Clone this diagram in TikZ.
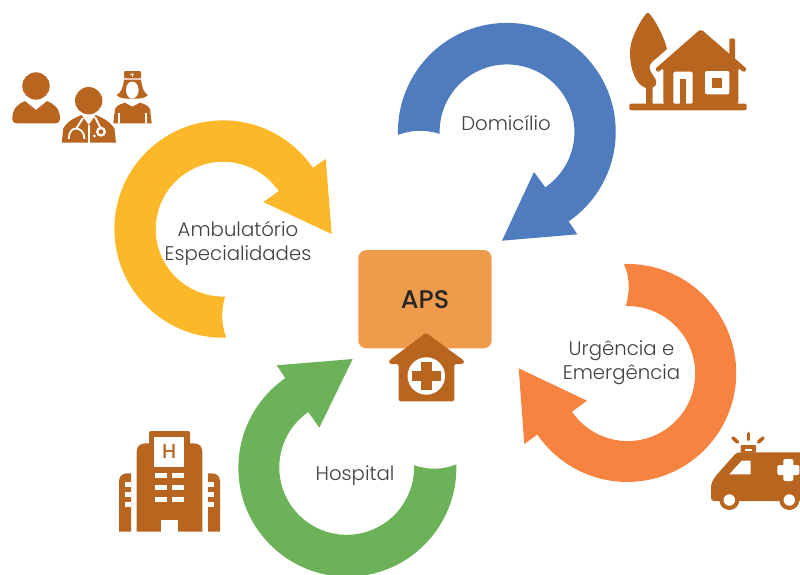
\documentclass[tikz,border=0pt]{standalone}
\usepackage{fontspec}
\setmainfont{Poppins}
\newfontfamily\lightfont{Poppins Light}
\newfontfamily\mediumfont{Poppins Medium}
\definecolor{ringyellow}{RGB}{253,184,41}
\definecolor{ringblue}{RGB}{78,124,191}
\definecolor{ringorange}{RGB}{246,131,64}
\definecolor{ringgreen}{RGB}{107,178,89}
\definecolor{apsbox}{RGB}{239,155,76}
\definecolor{iconbrown}{RGB}{184,101,32}
\definecolor{labelgrey}{RGB}{64,64,66}
\tikzset{
	icon/.style={fill=iconbrown},
	hole/.style={fill=white},
	ray/.style={draw=iconbrown, line width=3.6pt, line cap=round},
	gap/.style={draw=white, line width=1.8pt},
	ringlabel/.style={font=\lightfont\fontsize{19.7}{24}\selectfont, text=labelgrey, align=center, inner sep=0pt}
}

\begin{document}
\begin{tikzpicture}[x=1pt,y=1pt,yscale=-1]
	\clip (0,0) rectangle (800,574);

	\fill[ringyellow] (226.3,337.7) arc[start angle=88.3, end angle=325.7, radius=108.7]
		-- (325.7,159) -- (331.7,234) -- (263.3,202) -- (278.8,191.2)
		arc[start angle=325.7, end angle=88.3, radius=67.4]
		.. controls (221,310) and (221,324) .. (226.3,337.7) -- cycle;

	\fill[ringblue] (398,135) arc[start angle=178.3, end angle=415.4, radius=108.9]
		-- (577.3,234.3) -- (502,240.7) -- (534,172) -- (545.3,187.3)
		arc[start angle=415.4, end angle=178.3, radius=67.4]
		.. controls (425,129.5) and (412,129.5) .. (398,135) -- cycle;

	\fill[ringorange] (624,264) arc[start angle=268.3, end angle=505.6, radius=109]
		-- (524.3,444) -- (518.7,368.3) -- (587,400.7) -- (572,411.7)
		arc[start angle=505.6, end angle=268.3, radius=67.5]
		.. controls (630,292) and (630,278) .. (624,264) -- cycle;

	\fill[ringgreen] (456.3,464.3) arc[start angle=-1.8, end angle=235.3, radius=109]
		-- (276.7,365.3) -- (352.7,359) -- (319.3,427.7) -- (308.3,412)
		arc[start angle=235.3, end angle=-1.8, radius=67.4]
		.. controls (429,470) and (442,470) .. (456.3,464.3) -- cycle;

	\node[ringlabel] (ambul) at (238,243) {Ambulatório\\Especialidades};
	\node[ringlabel] (domic) at (506,123) {Domicílio};
	\node[ringlabel] (urgen) at (621.5,363) {Urgência e\\Emergência};
	\node[ringlabel] (hospi) at (355,475.5) {Hospital};

	\node[fill=apsbox, rounded corners=8pt, minimum width=133.4pt, minimum height=98.3pt, inner sep=0pt, font=\mediumfont\fontsize{25.5}{28}\selectfont, text=black!85] (aps) at (425,299.2) {\raisebox{-1.5pt}{APS}};

	\fill[icon, rounded corners=1.5pt] (426,332.7) -- (464.5,361) -- (463,364) -- (454.3,364) -- (454.3,401.3) -- (398.7,401.3) -- (398.7,364) -- (390,364) -- (388.5,361) -- cycle;
	\fill[hole] (426.3,376) circle (18.7);
	\fill[icon] (412.3,370.7) rectangle (440.7,381.3);
	\fill[icon] (421,362.3) rectangle (431.6,390);

	\fill[icon] (36,86) circle (13.7);
	\fill[icon] (12.3,119) .. controls (12.3,108) and (18,104) .. (25,101) -- (36,110) -- (47,101) .. controls (54,104) and (60,108) .. (60,119) .. controls (60,122) and (58,123.3) .. (56,123.3) -- (16.5,123.3) .. controls (14,123.3) and (12.3,122) .. (12.3,119) -- cycle;

	\fill[icon] (88.7,100.7) circle (13.7);
	\fill[icon] (61.7,142.7) -- (63.3,128.3) .. controls (66,123) and (73,118) .. (81.7,115) -- (88.7,125) -- (95.7,115) .. controls (104,118) and (111,123) .. (114.4,128.3) -- (116,142.7) -- cycle;
	\draw[gap] (88.7,125) -- (88.7,142.7);
	\draw[gap] (83,118) -- (76,129);
	\draw[gap] (68.8,139) .. controls (68.8,132) and (72,128.5) .. (76,128.5) .. controls (80,128.5) and (84.5,132) .. (84.5,139);
	\draw[gap] (95,117) -- (101,129);
	\fill[hole] (101,131.7) circle (5);
	\fill[icon] (101,131.7) circle (2.4);
	\fill[hole] (94.3,136) circle (1.5);

	\fill[icon, rounded corners=1pt] (124,71) rectangle (141,78.3);
	\fill[hole] (130.3,74.2) rectangle (134.3,75.2);
	\fill[hole] (131.8,72.7) rectangle (132.8,76.7);
	\fill[icon] (124,79.5) -- (141,79.5) .. controls (142,88) and (144,93) .. (148,95) .. controls (145,98) and (140,99) .. (136,98.5) -- (128.5,98.5) .. controls (125,99) and (119,98) .. (116.5,95) .. controls (121,93) and (123,88) .. (124,79.5) -- cycle;
	\fill[hole] (132.3,90) ellipse (6.3 and 8.5);
	\fill[icon] (113.3,123.3) -- (115,109) .. controls (117,105) and (121,104) .. (125,102.7) -- (132.3,106.7) -- (140,102.7) .. controls (144,104) and (148,105) .. (150,109) -- (151.7,123.3) -- cycle;
	\draw[draw=white, line width=1.5pt] (119,113.3) -- (119,123.3) (146,113.3) -- (146,123.3);

	\fill[icon, rounded corners=2pt] (629.3,103.7) rectangle (746.7,110.3);
	\fill[icon] (649,13.3) .. controls (654,18) and (664,36) .. (667,49) -- (652,62) .. controls (649,65) and (649,69) .. (651,72) -- (656,80) .. controls (657,84) and (655,87) .. (652.7,87.5) -- (652.7,104) -- (646,104) -- (646,88) .. controls (636,85) and (630,70) .. (630,52) .. controls (630,38) and (641,20) .. (646,14) .. controls (647,12.5) and (648,12.5) .. (649,13.3) -- cycle;
	\fill[icon, rounded corners=2pt] (729.3,38.3) rectangle (735,62);
	\fill[icon, rounded corners=2pt] (700.7,29) -- (747,69) -- (744,72.5) -- (738.3,68) -- (738.3,104) -- (663.3,104) -- (663.3,68) -- (658,72.5) -- (655,69) -- cycle;
	\fill[hole, rounded corners=2pt] (673.3,103.7) -- (673.3,71.7) -- (692.7,71.7) -- (692.7,103.7) -- cycle;
	\fill[icon] (680,78.7) rectangle (686,103.7);
	\fill[hole, rounded corners=2pt] (705,71) rectangle (729.3,94.3);
	\fill[icon] (712,77.7) rectangle (721.7,87.7);

	\fill[icon, rounded corners=3pt] (711,501) -- (711,484) -- (715,476.7) -- (736.7,452.3) -- (810,452.3) -- (810,501) -- cycle;
	\fill[icon, rounded corners=1pt] (740.7,452.5) -- (740.7,445) -- (756,445) -- (756,452.5) -- cycle;
	\fill[hole] (745,449) rectangle (751.7,451.3);
	\draw[ray] (748.3,433.5) -- (748.3,439.5);
	\draw[ray] (733,438) -- (737.5,442);
	\draw[ray] (763,438) -- (758.5,442);
	\fill[hole] (729.3,474.3) -- (741.7,460.7) -- (750.7,460.7) -- (750.7,474.3) -- cycle;
	\fill[hole, rounded corners=1.5pt] (777.3,465) rectangle (799.3,475);
	\fill[hole, rounded corners=1.5pt] (783.3,459) rectangle (793.3,481);
	\fill[icon] (729.3,500) circle (10);
	\fill[hole] (729.3,500) circle (5.7);
	\fill[icon] (789.3,500) circle (10);
	\fill[hole] (789.3,500) circle (5.7);

	\fill[icon, rounded corners=2pt] (149,431) rectangle (190,450);
	\fill[icon] (136.7,531.7) -- (136.7,452) .. controls (136.7,446) and (140,443.3) .. (146,443.3) -- (193,443.3) .. controls (199,443.3) and (202.3,446) .. (202.3,452) -- (202.3,531.7) -- cycle;
	\fill[hole] (154.3,436.7) rectangle (184,466.7);
	\node[font=\mediumfont\fontsize{20}{20}\selectfont, text=iconbrown, inner sep=0pt] (hletter) at (169.2,451.7) {H};
	\foreach \rowy in {472.5,484.5,496.7}{
		\fill[hole] (155,\rowy) rectangle ++(12,5.3);
		\fill[hole] (172.3,\rowy) rectangle ++(12,5.3);
	}
	\fill[hole] (160.7,520) rectangle (178.3,531.7);
	\fill[icon] (131,531.7) -- (119,531.7) -- (119,481) .. controls (119,476) and (123,473.3) .. (127,473.3) -- (131,473.3) -- cycle;
	\fill[icon] (208,531.7) -- (220,531.7) -- (220,481) .. controls (220,476) and (216,473.3) .. (212,473.3) -- (208,473.3) -- cycle;
	\foreach \rowy in {482,491.8,502.3}{
		\fill[hole] (125,\rowy) rectangle (131.2,\rowy+5);
		\fill[hole] (207.8,\rowy) rectangle (214,\rowy+5);
	}
\end{tikzpicture}
\end{document}
